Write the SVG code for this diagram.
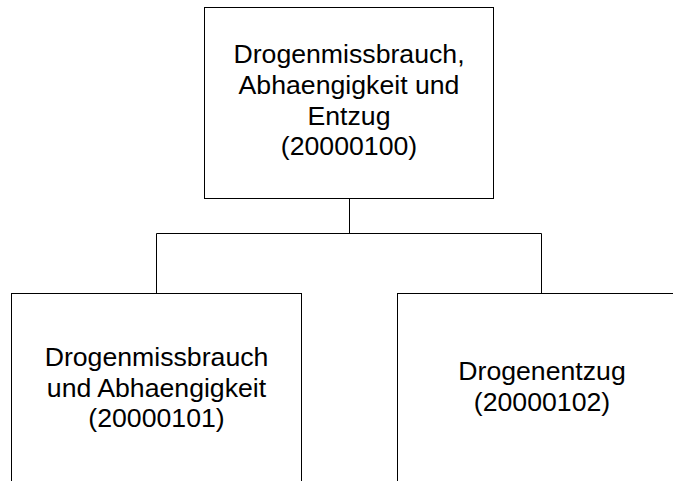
<svg xmlns="http://www.w3.org/2000/svg" width="673" height="481" viewBox="0 0 673 481">
<style>
.box{fill:#fff;stroke:#000;stroke-width:1}
.lbl{font-family:"Liberation Sans",Arial,sans-serif;font-size:26.67px;fill:#000;text-anchor:middle}
.con{fill:none;stroke:#000;stroke-width:1}
</style>
<rect width="673" height="481" fill="#fff"/>
<g id="connectors">
<path class="con" d="M349.5 198.5V233.5M156.5 233.5H541.5M156.5 233.5V293.5M541.5 233.5V293.5"/>
</g>
<g id="node-root">
<rect class="box" x="204.5" y="7.5" width="289" height="191"/>
<text class="lbl" x="349" y="63">Drogenmissbrauch,</text>
<text class="lbl" x="349" y="94">Abhaengigkeit und</text>
<text class="lbl" x="349" y="124.5">Entzug</text>
<text class="lbl" x="349" y="155">(20000100)</text>
</g>
<g id="node-101">
<rect class="box" x="11.5" y="293.5" width="290" height="200"/>
<text class="lbl" x="156.5" y="365.5">Drogenmissbrauch</text>
<text class="lbl" x="156.5" y="396.5">und Abhaengigkeit</text>
<text class="lbl" x="156.5" y="427">(20000101)</text>
</g>
<g id="node-102">
<rect class="box" x="397.5" y="293.5" width="290" height="200"/>
<text class="lbl" x="542" y="380">Drogenentzug</text>
<text class="lbl" x="542" y="410.5">(20000102)</text>
</g>
</svg>
